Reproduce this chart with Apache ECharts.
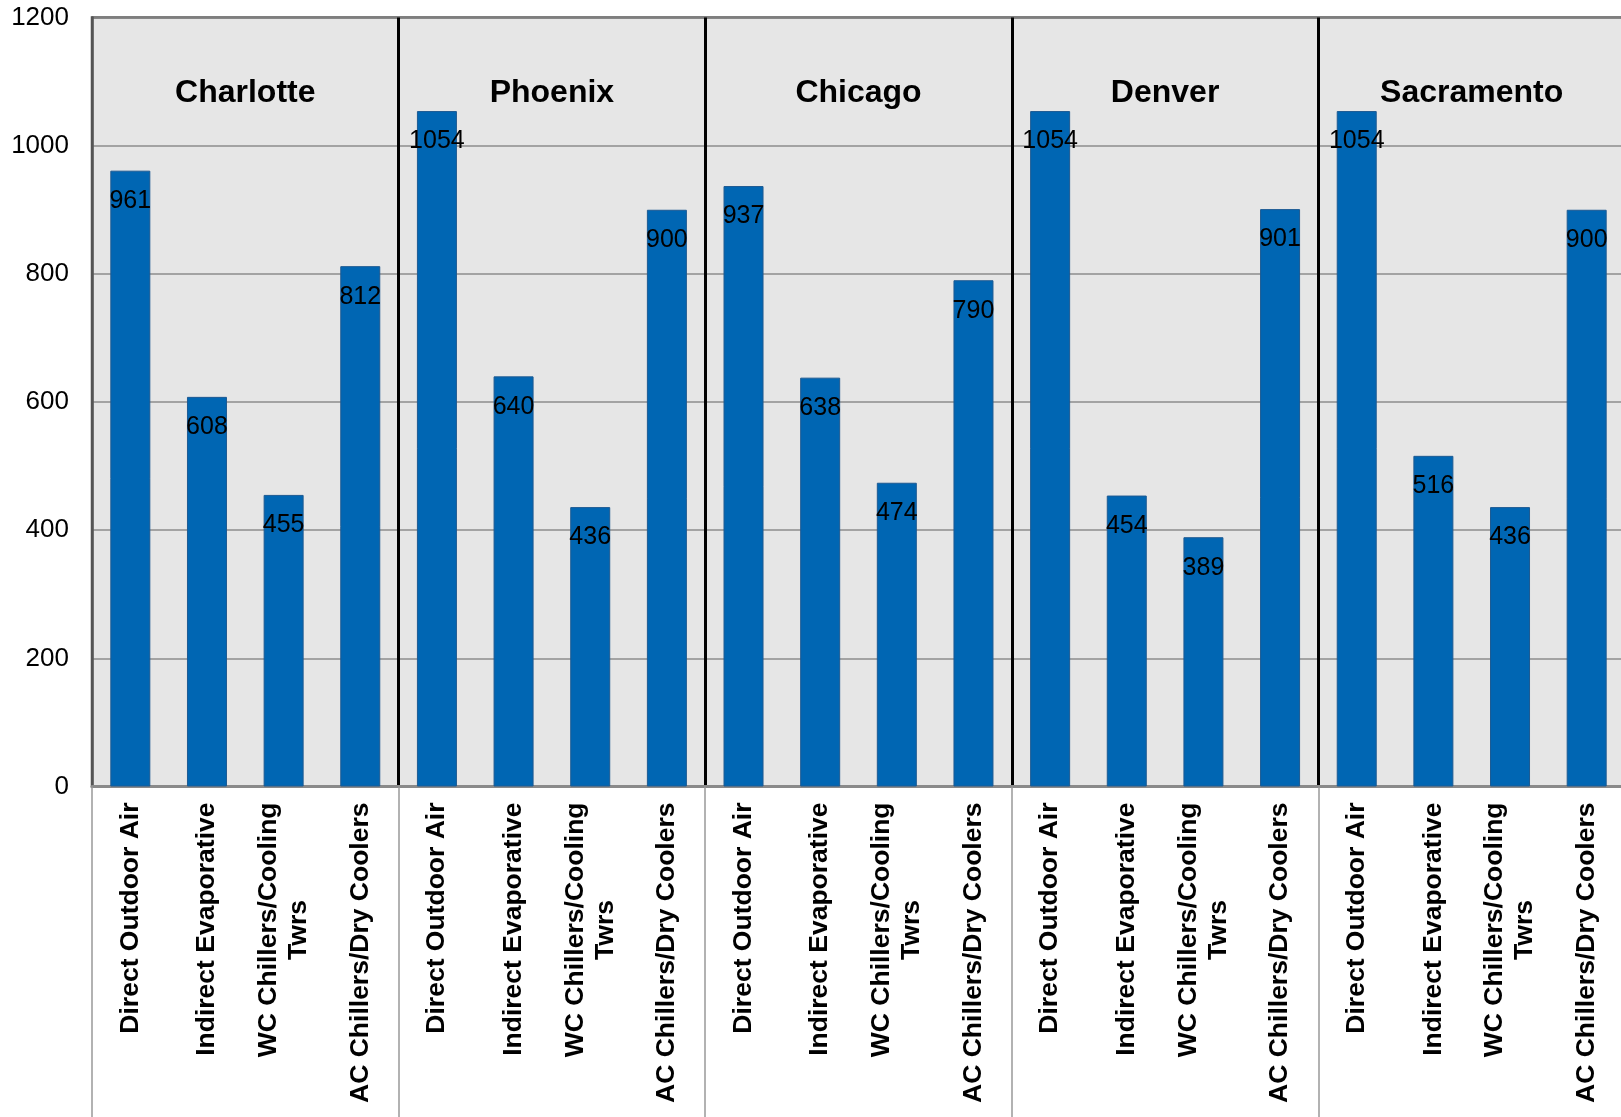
<!DOCTYPE html>
<html>
<head>
<meta charset="utf-8">
<script src="https://cdn.jsdelivr.net/npm/echarts@6/dist/echarts.min.js"></script>
<style>
html,body{margin:0;padding:0;background:#fff;}
#chart{width:1621px;height:1117px;}
</style>
</head>
<body>
<div id="chart"></div>
<script>
const cities = ['Charlotte', 'Phoenix', 'Chicago', 'Denver', 'Sacramento'];
const techs = ['Direct Outdoor Air', 'Indirect Evaporative', 'WC Chillers/Cooling\nTwrs', 'AC Chillers/Dry Coolers'];
const charlotte = [961, 608, 455, 812];
const phoenix = [1054, 640, 436, 900];
const chicago = [937, 638, 474, 790];
const denver = [1054, 454, 389, 901];
const sacramento = [1054, 516, 436, 900];
const yTicks = [0, 200, 400, 600, 800, 1000, 1200];

const cityValues = [charlotte, phoenix, chicago, denver, sacramento];
const categories = [];
const values = [];
cities.forEach((c, i) => {
  techs.forEach((t, j) => {
    categories.push(t);
    values.push(cityValues[i][j]);
  });
});

const FONT = '"Liberation Sans", Arial, Helvetica, sans-serif';
const chart = echarts.init(document.getElementById('chart'), null, {renderer: 'canvas'});

chart.setOption({
  animation: false,
  backgroundColor: '#ffffff',
  textStyle: {fontFamily: FONT},
  grid: {
    left: 92, top: 17.5, width: 1533, height: 769,
    containLabel: false, outerBoundsMode: 'none',
    show: true, backgroundColor: '#e6e6e6', borderColor: '#555555', borderWidth: 2.5
  },
  xAxis: [{
    type: 'category',
    data: categories,
    position: 'bottom',
    boundaryGap: true,
    axisLine: {show: true, lineStyle: {color: '#8a8a8a', width: 3}},
    axisTick: {
      show: true, length: 335, alignWithLabel: false,
      interval: (idx) => idx % 4 === 0,
      lineStyle: {color: '#999999', width: 1.5}
    },
    splitLine: {
      show: true,
      interval: (idx) => idx % 4 === 0 && idx > 0,
      lineStyle: {color: '#000000', width: 3}
    },
    axisLabel: {
      interval: 0, rotate: 90, margin: 16,
      fontFamily: FONT, fontSize: 26.5, fontWeight: 'bold', color: '#000',
      lineHeight: 30,
      formatter: (v) => {
        if (v.indexOf('\n') >= 0) {
          const parts = v.split('\n');
          return '{a|' + parts[0] + '}\n{b|' + parts[1] + '}';
        }
        return v;
      },
      rich: {
        a: {fontFamily: FONT, fontSize: 26.5, fontWeight: 'bold', color: '#000', lineHeight: 30},
        b: {fontFamily: FONT, fontSize: 26.5, fontWeight: 'bold', color: '#000', lineHeight: 30, width: 255, align: 'center'}
      }
    }
  }, {
    type: 'category',
    data: cities,
    position: 'top',
    boundaryGap: true,
    axisLine: {show: false},
    axisTick: {show: false},
    splitLine: {show: false},
    axisLabel: {
      inside: true, margin: 76, verticalAlign: 'middle',
      fontFamily: FONT, fontSize: 32, fontWeight: 'bold', color: '#000'
    }
  }],
  yAxis: {
    type: 'value',
    min: yTicks[0], max: yTicks[yTicks.length - 1], interval: 200,
    axisLine: {show: true, lineStyle: {color: '#555555', width: 2.5}},
    axisTick: {show: false},
    splitLine: {show: true, lineStyle: {color: '#8c8c8c', width: 1.5}},
    axisLabel: {
      margin: 23, fontFamily: FONT, fontSize: 26, color: '#000',
      formatter: (v) => String(v)
    }
  },
  series: [{
    type: 'bar',
    xAxisIndex: 0,
    data: values,
    barWidth: 40,
    itemStyle: {color: '#0066b3', borderColor: '#1d5a92', borderWidth: 1},
    label: {
      show: true, position: 'insideTop', distance: 18,
      fontFamily: FONT, fontSize: 25, color: '#000'
    }
  }]
});
</script>
</body>
</html>
